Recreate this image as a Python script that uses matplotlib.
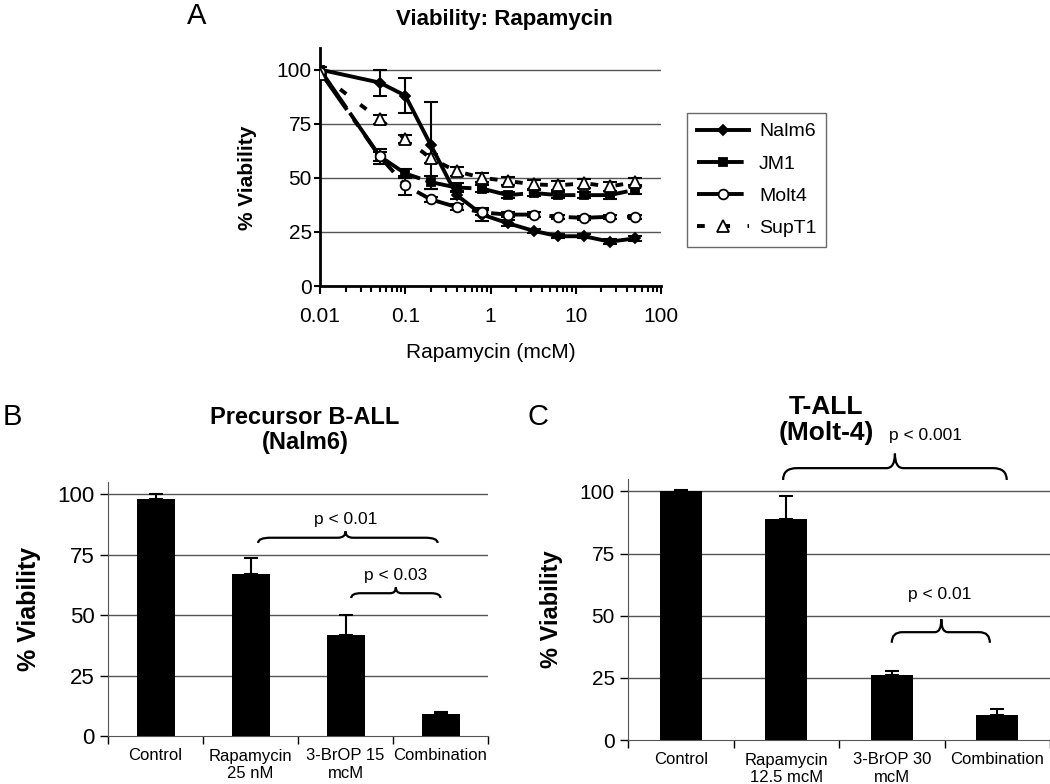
import numpy as np
import matplotlib
matplotlib.use("Agg")
import matplotlib.pyplot as plt
from matplotlib.path import Path
from matplotlib.patches import PathPatch
from matplotlib.ticker import FixedLocator, NullFormatter, LogLocator

plt.rcParams['font.family'] = ['Liberation Sans', 'DejaVu Sans']

# ---- Panel A data: viability vs rapamycin concentration ----
conc = [0.01, 0.05, 0.1, 0.2, 0.4, 0.8, 1.6, 3.2, 6.25, 12.5, 25, 50]
nalm6 = [100, 94, 88, 65, 42, 33, 29, 25.5, 23, 23, 20.5, 22]
nalm6_err = [1, 6, 8, 20, 2, 3, 1.5, 1, 1, 1, 1, 1]
jm1 = [100, 60, 52, 48, 45.5, 45, 42, 43, 42, 42, 42, 44.5]
jm1_err = [1, 2, 2, 3, 2, 1.5, 1.5, 1.5, 1.5, 1.5, 2, 2]
molt4 = [99, 60, 46.5, 40, 36.5, 34, 33, 33, 32, 31.5, 32, 32]
molt4_err = [1, 3.5, 4.5, 1, 1.5, 1, 1, 1, 1, 1, 1, 1]
supt1 = [98, 77, 68, 59, 53, 50, 48.5, 47, 46.5, 47.5, 46, 48]
supt1_err = [1, 2, 2, 2, 2, 2, 2, 2, 2, 2, 2, 2]

# ---- Panel B data ----
b_labels = ["Control", "Rapamycin\n25 nM", "3-BrOP 15\nmcM", "Combination"]
b_vals = [97.8, 67.1, 41.9, 9.0]
b_err = [2.2, 6.6, 8.3, 1.0]

# ---- Panel C data ----
c_labels = ["Control", "Rapamycin\n12.5 mcM", "3-BrOP 30\nmcM", "Combination"]
c_vals = [100, 89.1, 26.0, 9.9]
c_err = [0.7, 8.9, 1.6, 2.7]

grid_col = "#555555"


def brace(ax, x0, x1, y_end, y_tip, xc=None, rx=0.13, rt=0.08):
    # curly brace opening downward, tip pointing up
    if xc is None:
        xc = (x0 + x1) / 2
    ym = y_end + 0.45 * (y_tip - y_end)
    verts = [(x0, y_end), (x0, ym), (x0 + rx, ym),
             (xc - rt, ym), (xc, ym), (xc, y_tip),
             (xc, ym), (xc + rt, ym),
             (x1 - rx, ym), (x1, ym), (x1, y_end)]
    codes = [Path.MOVETO, Path.CURVE3, Path.CURVE3,
             Path.LINETO, Path.CURVE3, Path.CURVE3,
             Path.CURVE3, Path.CURVE3,
             Path.LINETO, Path.CURVE3, Path.CURVE3]
    ax.add_patch(PathPatch(Path(verts, codes), fill=False, lw=1.6,
                           edgecolor="black", clip_on=False))


fig = plt.figure(figsize=(10.5, 7.84), dpi=100)

# ================= Panel A =================
axA = fig.add_axes([0.3048, 0.6352, 0.3247, 0.3036])
series = [
    ("Nalm6", nalm6, nalm6_err, "-", "D", "black", 5),
    ("JM1", jm1, jm1_err, (0, (12, 1.5)), "s", "black", 6),
    ("Molt4", molt4, molt4_err, (0, (12, 3, 2, 3)), "o", "white", 7),
    ("SupT1", supt1, supt1_err, (0, (2, 4.5)), "^", "white", 9),
]
handles = []
for name, y, e, ls, mk, fc, ms in series:
    axA.errorbar(conc, y, yerr=e, fmt="none", ecolor="black",
                 elinewidth=1.5, capsize=5, capthick=1.5, zorder=3)
    h, = axA.plot(conc, y, linestyle=ls, color="black", lw=2.8,
                  marker=mk, markersize=ms, markerfacecolor=fc,
                  markeredgecolor="black", markeredgewidth=1.3,
                  label=name, zorder=4)
    handles.append(h)

axA.set_xscale("log")
axA.set_xlim(0.01, 100)
axA.set_ylim(0, 110)
axA.set_yticks([0, 25, 50, 75, 100])
axA.xaxis.set_major_locator(FixedLocator([0.01, 0.1, 1, 10, 100]))
axA.set_xticklabels(["0.01", "0.1", "1", "10", "100"])
axA.xaxis.set_minor_locator(LogLocator(base=10, subs=np.arange(2, 10)))
axA.xaxis.set_minor_formatter(NullFormatter())
for v in [25, 50, 75, 100]:
    axA.axhline(v, color=grid_col, lw=1, zorder=1)
for s in ["top", "right"]:
    axA.spines[s].set_visible(False)
axA.spines["left"].set_linewidth(2)
axA.spines["bottom"].set_linewidth(2)
axA.tick_params(axis="x", which="major", labelsize=15, direction="out",
                length=6, width=1.5, pad=9)
axA.tick_params(axis="y", which="major", labelsize=15, direction="out",
                length=4, width=1.5, pad=2)
axA.tick_params(axis="x", which="minor", direction="out", length=4, width=1.5)
axA.set_ylabel("% Viability", fontsize=15, fontweight="bold")
axA.yaxis.set_label_coords(-0.185, 0.454)
axA.set_xlabel("Rapamycin (mcM)", fontsize=15, labelpad=12)
fig.text(504 / 1050, 1 - 19 / 784, "Viability: Rapamycin", ha="center",
         va="center", fontsize=16, fontweight="bold")

leg = fig.legend(handles=handles, loc="upper left",
                 bbox_to_anchor=(687 / 1050, 1 - 113 / 784),
                 fontsize=14, frameon=True, fancybox=False,
                 edgecolor="#444444", handlelength=2.7, labelspacing=0.75,
                 borderpad=0.5, handletextpad=0.5, borderaxespad=0)
leg.get_frame().set_linewidth(1)

# ================= Bar panels =================
def bar_panel(rect, labels, vals, err, tick_fs, lab_fs):
    ax = fig.add_axes(rect)
    x = np.arange(len(vals))
    for v in [25, 50, 75, 100]:
        ax.axhline(v, color=grid_col, lw=1, zorder=1)
    ax.bar(x, vals, width=0.4, color="black", zorder=3)
    ax.errorbar(x, vals, yerr=[np.zeros(len(err)), err], fmt="none",
                ecolor="black", elinewidth=1.5, capsize=5, capthick=1.5,
                zorder=4)
    ax.set_xlim(-0.5, len(vals) - 0.5)
    ax.set_ylim(0, 105)
    ax.set_yticks([0, 25, 50, 75, 100])
    ax.set_xticks(x)
    ax.set_xticklabels(labels, fontsize=12, linespacing=1.2)
    ax.set_xticks(np.arange(-0.5, len(vals)), minor=True)
    ax.tick_params(axis="x", which="major", length=0, pad=9)
    ax.tick_params(axis="x", which="minor", length=6, width=1, direction="out")
    ax.tick_params(axis="y", labelsize=tick_fs, length=6, width=1,
                   direction="out")
    for s in ["top", "right"]:
        ax.spines[s].set_visible(False)
    ax.spines["left"].set_color(grid_col)
    ax.spines["bottom"].set_color(grid_col)
    ax.set_ylabel("% Viability", fontsize=lab_fs, fontweight="bold",
                  labelpad=12)
    return ax


axB = bar_panel([108 / 1050, 48 / 784, 380 / 1050, 254 / 784],
                b_labels, b_vals, b_err, 16, 18)
brace(axB, 1.08, 2.97, 79.8, 84.6, xc=2.0)
axB.text(2.0, 89.5, "p < 0.01", ha="center", va="center", fontsize=12.5)
brace(axB, 2.06, 3.0, 57, 61.5, xc=2.53, rx=0.1, rt=0.06)
axB.text(2.53, 66.5, "p < 0.03", ha="center", va="center", fontsize=12.5)

axC = bar_panel([628 / 1050, 44 / 784, 422 / 1050, 261 / 784],
                c_labels, c_vals, c_err, 15, 17)
brace(axC, 0.97, 3.09, 104.6, 115.2, xc=2.03)
axC.text(1.97, 122.7, "p < 0.001", ha="left", va="center", fontsize=12.5)
brace(axC, 2.0, 2.93, 39.1, 48.6, xc=2.47, rx=0.1, rt=0.06)
axC.text(2.45, 58.6, "p < 0.01", ha="center", va="center", fontsize=12.5)

# titles and panel letters
fig.text(305 / 1050, 1 - 430 / 784, "Precursor B-ALL\n(Nalm6)", ha="center",
         va="center", fontsize=17, fontweight="bold", linespacing=1.1)
fig.text(826 / 1050, 1 - 420 / 784, "T-ALL\n(Molt-4)", ha="center",
         va="center", fontsize=19, fontweight="bold", linespacing=1.1)
fig.text(197 / 1050, 1 - 16 / 784, "A", ha="center", va="center", fontsize=21)
fig.text(12 / 1050, 1 - 417 / 784, "B", ha="center", va="center", fontsize=21)
fig.text(538 / 1050, 1 - 417 / 784, "C", ha="center", va="center", fontsize=21)

fig.savefig("out.png", dpi=100)
